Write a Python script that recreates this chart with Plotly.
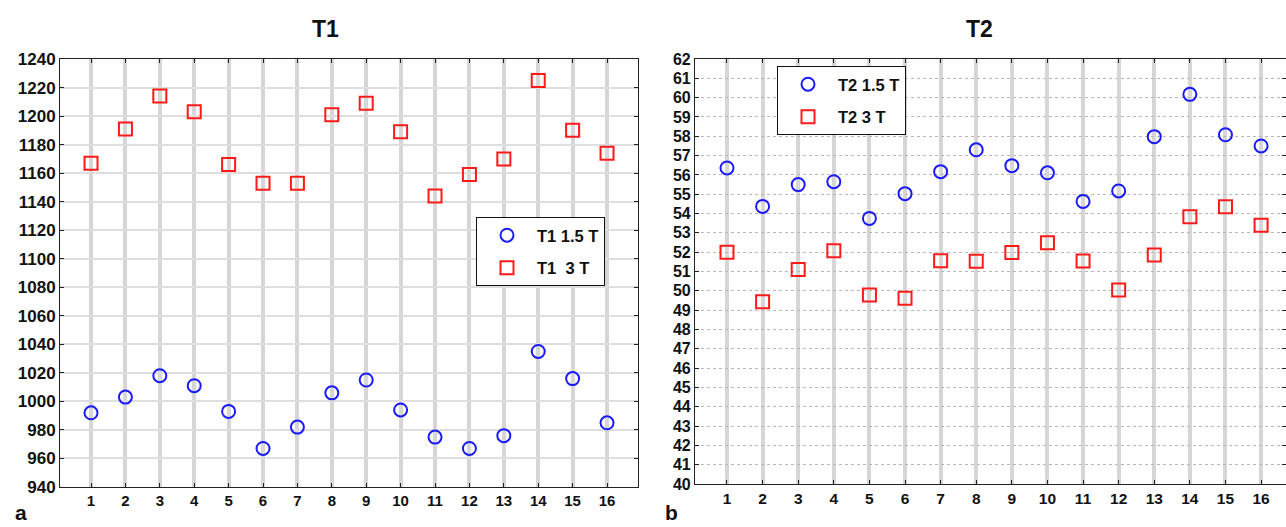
import plotly.graph_objects as go

# Subject index (1..16)
subjects = list(range(1, 17))

# T1 relaxation times (ms)
t1_15T = [992, 1003, 1018, 1011, 993, 967, 982, 1006, 1015, 994, 975, 967, 976, 1035, 1016, 985]
t1_3T = [1167, 1191, 1214, 1203, 1166, 1153, 1153, 1201, 1209, 1189, 1144, 1159, 1170, 1225, 1190, 1174]

# T2 relaxation times (ms)
t2_15T = [56.36, 54.37, 55.5, 55.65, 53.75, 55.03, 56.17, 57.3, 56.48, 56.11, 54.63, 55.17, 57.98, 60.17, 58.08, 57.5]
t2_3T = [52.0, 49.44, 51.11, 52.08, 49.78, 49.61, 51.56, 51.53, 51.99, 52.49, 51.54, 50.04, 51.85, 53.84, 54.35, 53.4]

t1_ticks = list(range(940, 1241, 20))
t2_ticks = list(range(40, 63))

FONT = "Liberation Sans, Arial, sans-serif"
BLUE = "#1a1aff"
RED = "#ff1a1a"

fig = go.Figure()

marker_circle = dict(symbol="circle-open", size=13, color=BLUE, line=dict(width=2, color=BLUE))
marker_square = dict(symbol="square-open", size=13, color=RED, line=dict(width=2, color=RED))

fig.add_trace(go.Scatter(x=subjects, y=t1_15T, mode="markers", name="T1 1.5 T",
                         marker=marker_circle, xaxis="x", yaxis="y",
                         legend="legend", legendgroup="a1"))
fig.add_trace(go.Scatter(x=subjects, y=t1_3T, mode="markers", name="T1\u00a0\u00a03 T",
                         marker=marker_square, xaxis="x", yaxis="y",
                         legend="legend", legendgroup="a2"))
fig.add_trace(go.Scatter(x=subjects, y=t2_15T, mode="markers", name="T2 1.5 T",
                         marker=marker_circle, xaxis="x2", yaxis="y2",
                         legend="legend2", legendgroup="b1"))
fig.add_trace(go.Scatter(x=subjects, y=t2_3T, mode="markers", name="T2 3 T",
                         marker=marker_square, xaxis="x2", yaxis="y2",
                         legend="legend2", legendgroup="b2"))

common_x = dict(
    tickmode="array", tickvals=subjects, ticktext=[str(s) for s in subjects],
    showgrid=True, gridcolor="#d6d6d6", gridwidth=4,
    showline=True, linecolor="#222", linewidth=1, mirror="ticks",
    ticks="inside", ticklen=4, tickcolor="#222",
    zeroline=False, fixedrange=True, automargin=False,
)

legend_common = dict(
    bgcolor="white", bordercolor="#111", borderwidth=1,
    font=dict(family=FONT, size=16.5, color="#111", weight="bold"),
    itemwidth=50, tracegroupgap=8, xanchor="left", yanchor="top",
    itemclick=False, itemdoubleclick=False,
)

fig.update_layout(
    width=1286, height=527,
    margin=dict(l=0, r=0, t=0, b=0, pad=0, autoexpand=False),
    paper_bgcolor="white", plot_bgcolor="white",
    font=dict(family=FONT, color="#111"),
    xaxis=dict(common_x, domain=[0.0467, 0.4961], range=[0.1, 16.9], anchor="y",
               tickfont=dict(family=FONT, size=15, weight="bold")),
    yaxis=dict(domain=[0.0759, 0.888], range=[940, 1240], anchor="x",
               tickmode="array", tickvals=t1_ticks,
               showgrid=True, gridcolor="#dedede", gridwidth=2,
               showline=True, linecolor="#222", linewidth=1, mirror="ticks",
               ticks="inside", ticklen=4, tickcolor="#222",
               zeroline=False, fixedrange=True, automargin=False,
               tickfont=dict(family=FONT, size=17, weight="bold")),
    xaxis2=dict(common_x, domain=[0.5404, 1.0], range=[0.1, 16.7], anchor="y2",
                tickfont=dict(family=FONT, size=15.5, weight="bold")),
    yaxis2=dict(domain=[0.0816, 0.888], range=[40, 62], anchor="x2",
                tickmode="array", tickvals=t2_ticks,
                showgrid=True, gridcolor="#b8b8b8", gridwidth=1, griddash="dot",
                showline=True, linecolor="#222", linewidth=1, mirror="ticks",
                ticks="inside", ticklen=4, tickcolor="#222",
                zeroline=False, fixedrange=True, automargin=False,
                tickfont=dict(family=FONT, size=16, weight="bold")),
    legend=dict(legend_common, x=476 / 1286, y=1 - 217 / 527),
    legend2=dict(legend_common, x=777 / 1286, y=1 - 66 / 527),
    showlegend=True,
    annotations=[
        dict(text="<b>T1</b>", x=325 / 1286, y=1 - 28.5 / 527, xref="paper", yref="paper",
             showarrow=False, font=dict(family=FONT, size=23, color="#111"),
             xanchor="center", yanchor="middle"),
        dict(text="<b>T2</b>", x=979 / 1286, y=1 - 28.5 / 527, xref="paper", yref="paper",
             showarrow=False, font=dict(family=FONT, size=23, color="#111"),
             xanchor="center", yanchor="middle"),
        dict(text="<b>a</b>", x=21 / 1286, y=1 / 527, xref="paper", yref="paper",
             showarrow=False, font=dict(family=FONT, size=21, color="#111"),
             xanchor="center", yanchor="bottom"),
        dict(text="<b>b</b>", x=671 / 1286, y=1 / 527, xref="paper", yref="paper",
             showarrow=False, font=dict(family=FONT, size=21, color="#111"),
             xanchor="center", yanchor="bottom"),
    ],
)

fig.write_html("out.html")
